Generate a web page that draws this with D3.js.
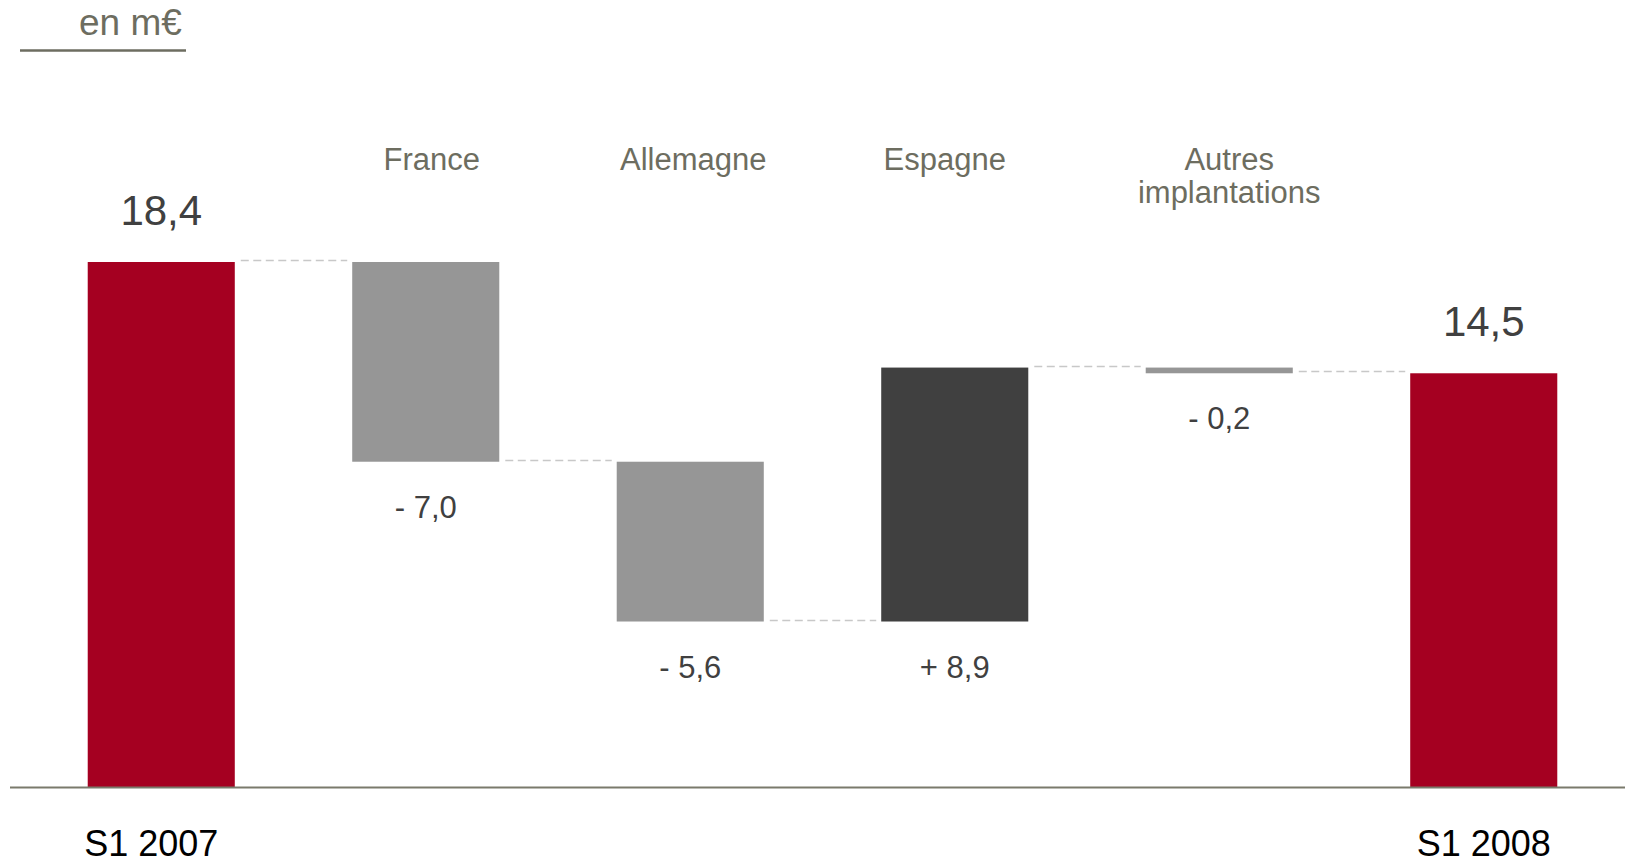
<!DOCTYPE html>
<html>
<head>
<meta charset="utf-8">
<script src="https://cdn.jsdelivr.net/npm/d3@7"></script>
<style>
  html, body { margin: 0; padding: 0; background: #ffffff; }
  svg { display: block; font-family: "Liberation Sans", Arial, sans-serif; }
</style>
</head>
<body>
<svg id="chart" width="1625" height="866"></svg>
<script>
// ---- data ----
const categories = ["S1 2007", "France", "Allemagne", "Espagne", "Autres implantations", "S1 2008"];
const startTotal = 18.4;
const endTotal = 14.5;
const deltas = [-7.0, -5.6, 8.9, -0.2];
const valueLabels = ["18,4", "- 7,0", "- 5,6", "+ 8,9", "- 0,2", "14,5"];
const headerLines = [[], ["France"], ["Allemagne"], ["Espagne"], ["Autres", "implantations"], []];
const unitLabel = "en m€";

// ---- build waterfall rows ----
const rows = [];
rows.push({ cat: categories[0], kind: "total", lo: 0, hi: startTotal, level: startTotal });
let level = startTotal;
deltas.forEach((d, i) => {
  const next = level + d;
  rows.push({ cat: categories[i + 1], kind: d < 0 ? "neg" : "pos", lo: Math.min(level, next), hi: Math.max(level, next), level: next });
  level = next;
});
rows.push({ cat: categories[5], kind: "total", lo: 0, hi: endTotal, level: endTotal });

const colors = { total: "#a50021", neg: "#969696", pos: "#404040" };
const headerShift = { "France": 6, "Allemagne": 3, "Espagne": -10, "Autres implantations": 10 };

const svg = d3.select("#chart");

const x = d3.scaleBand()
  .domain(categories)
  .range([29, 1616])
  .paddingInner(0.444)
  .paddingOuter(0.222);

const y = d3.scaleLinear()
  .domain([0, startTotal])
  .range([787, 262]);

// unit label
svg.append("text")
  .attr("x", 79).attr("y", 35)
  .attr("font-size", 37)
  .attr("fill", "#6d6d60")
  .text(unitLabel);
svg.append("line")
  .attr("x1", 20).attr("x2", 186)
  .attr("y1", 50.5).attr("y2", 50.5)
  .attr("stroke", "#6d6d60").attr("stroke-width", 2.5);

// connectors
for (let i = 0; i < rows.length - 1; i++) {
  const lv = rows[i].level;
  svg.append("line")
    .attr("x1", x(rows[i].cat) + x.bandwidth() + 6)
    .attr("x2", x(rows[i + 1].cat) - 5)
    .attr("y1", Math.round(y(lv)) - 1.5)
    .attr("y2", Math.round(y(lv)) - 1.5)
    .attr("stroke", "#c8c8c8")
    .attr("stroke-width", 1.6)
    .attr("stroke-dasharray", "8,4.5");
}

// bars
svg.selectAll("rect.bar")
  .data(rows)
  .join("rect")
  .attr("class", "bar")
  .attr("x", d => x(d.cat))
  .attr("width", x.bandwidth())
  .attr("y", d => y(d.hi))
  .attr("height", d => Math.max(1, y(d.lo) - y(d.hi)))
  .attr("fill", d => colors[d.kind]);

// baseline
svg.append("line")
  .attr("x1", 10).attr("x2", 1625)
  .attr("y1", y(0) + 0.5).attr("y2", y(0) + 0.5)
  .attr("stroke", "#7a7a6c").attr("stroke-width", 2);

// value labels
svg.selectAll("text.val")
  .data(rows)
  .join("text")
  .attr("class", "val")
  .attr("x", d => x(d.cat) + x.bandwidth() / 2)
  .attr("y", d => d.kind === "total" ? y(d.hi) - 37 : y(d.lo) + 56)
  .attr("text-anchor", "middle")
  .attr("font-size", d => d.kind === "total" ? 42 : 31)
  .attr("fill", "#404040")
  .text((d, i) => valueLabels[i]);

// category headers (top)
rows.forEach((d, i) => {
  headerLines[i].forEach((ln, j) => {
    svg.append("text")
      .attr("x", x(d.cat) + x.bandwidth() / 2 + (headerShift[d.cat] || 0))
      .attr("y", 170 + j * 33)
      .attr("text-anchor", "middle")
      .attr("font-size", 31)
      .attr("fill", "#6d6d60")
      .text(ln);
  });
});

// bottom labels for totals
rows.filter(d => d.kind === "total").forEach((d, k) => {
  svg.append("text")
    .attr("x", x(d.cat) + x.bandwidth() / 2 + (k === 0 ? -10 : 0))
    .attr("y", 856)
    .attr("text-anchor", "middle")
    .attr("font-size", 36)
    .attr("fill", "#000000")
    .text(d.cat);
});
</script>
</body>
</html>
